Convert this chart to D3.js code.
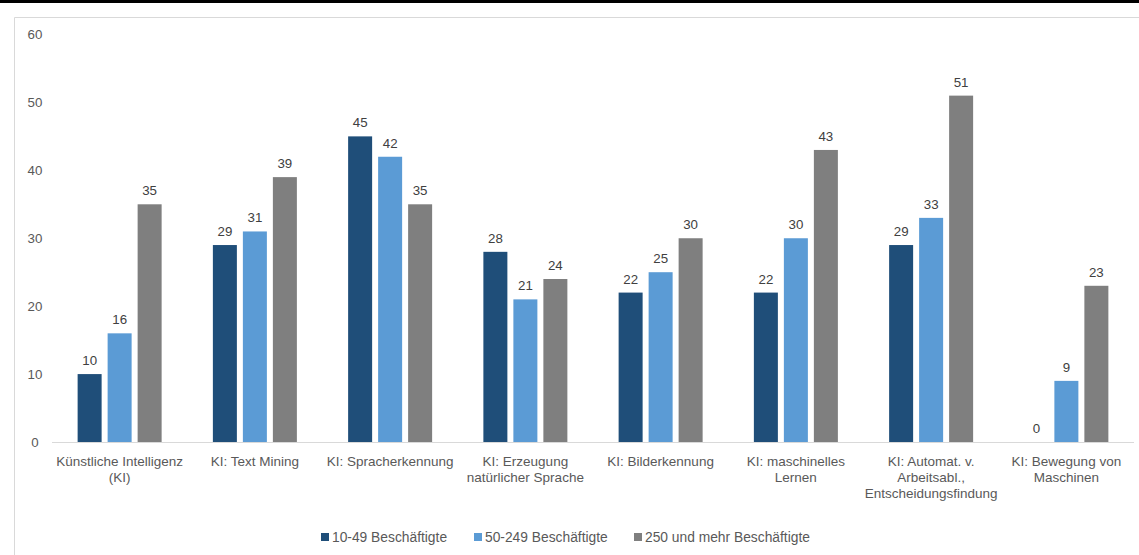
<!DOCTYPE html>
<html>
<head>
<meta charset="utf-8">
<script src="https://cdn.jsdelivr.net/npm/d3@7"></script>
<style>
  html, body { margin: 0; padding: 0; background: #fff; }
  svg { display: block; font-family: "Liberation Sans", Arial, sans-serif; }
</style>
</head>
<body>
<svg id="chart" width="1139" height="555"></svg>
<script>
// Category labels (line breaks mark wrapped axis labels)
const categories = [
  "Künstliche Intelligenz\n(KI)",
  "KI: Text Mining",
  "KI: Spracherkennung",
  "KI: Erzeugung\nnatürlicher Sprache",
  "KI: Bilderkennung",
  "KI: maschinelles\nLernen",
  "KI: Automat. v.\nArbeitsabl.,\nEntscheidungsfindung",
  "KI: Bewegung von\nMaschinen"
];
const seriesNames = ["10-49 Beschäftigte", "50-249 Beschäftigte", "250 und mehr Beschäftigte"];
const small  = [10, 29, 45, 28, 22, 22, 29, 0];
const medium = [16, 31, 42, 21, 25, 30, 33, 9];
const large  = [35, 39, 35, 24, 30, 43, 51, 23];
const yTicks = [0, 10, 20, 30, 40, 50, 60];
const colors = ["#1f4e79", "#5b9bd5", "#7f7f7f"];

const series = [small, medium, large];
const svg = d3.select("#chart");

// Top rule and outer frame
svg.append("rect").attr("x", 0).attr("y", 0).attr("width", 1139).attr("height", 3).attr("fill", "#000");
svg.append("path")
  .attr("d", "M14.5,560 V17.5 H1139")
  .attr("fill", "none").attr("stroke", "#d9d9d9").attr("stroke-width", 1);

const x0 = d3.scaleBand().domain(d3.range(categories.length)).range([52, 1134]).paddingInner(0).paddingOuter(0);
const y = d3.scaleLinear().domain([0, 60]).range([442, 34.5]);
const barW = 24, step = 30;

// Y axis labels (no axis line)
const yAxis = d3.axisLeft(y).tickValues(yTicks).tickSize(0).tickPadding(0);
const ya = svg.append("g").attr("transform", "translate(39,0)").call(yAxis);
ya.select(".domain").remove();
ya.selectAll("text").attr("font-size", 13.3).attr("fill", "#595959")
  .attr("font-family", "Liberation Sans, Arial, sans-serif").attr("text-anchor", "middle").attr("dx", -4);

// Baseline
svg.append("line").attr("x1", 52).attr("x2", 1134).attr("y1", y(0) + 0.5).attr("y2", y(0) + 0.5)
  .attr("stroke", "#d9d9d9").attr("stroke-width", 1);

// Bars and value labels
const groups = svg.append("g").selectAll("g").data(categories).join("g")
  .attr("transform", (d, i) => `translate(${x0(i) + x0.bandwidth() / 2},0)`);

series.forEach((vals, s) => {
  groups.append("rect")
    .attr("x", -barW / 2 + (s - 1) * step)
    .attr("width", barW)
    .attr("y", (d, i) => y(vals[i]))
    .attr("height", (d, i) => y(0) - y(vals[i]))
    .attr("fill", colors[s]);
  groups.append("text")
    .attr("x", (s - 1) * step)
    .attr("y", (d, i) => y(vals[i]) - 9)
    .attr("text-anchor", "middle")
    .attr("font-size", 13.3).attr("fill", "#404040")
    .text((d, i) => vals[i]);
});

// Category labels
const xl = svg.append("g");
categories.forEach((c, i) => {
  const t = xl.append("text")
    .attr("x", x0(i) + x0.bandwidth() / 2)
    .attr("y", 466)
    .attr("text-anchor", "middle")
    .attr("font-size", 13.5).attr("fill", "#595959");
  c.split("\n").forEach((line, k) => {
    t.append("tspan").attr("x", x0(i) + x0.bandwidth() / 2).attr("dy", k === 0 ? 0 : 16).text(line);
  });
});

// Legend
const legendX = [321, 474, 634];
const lg = svg.append("g");
seriesNames.forEach((n, s) => {
  lg.append("rect").attr("x", legendX[s]).attr("y", 533).attr("width", 8).attr("height", 8).attr("fill", colors[s]);
  lg.append("text").attr("x", legendX[s] + 11).attr("y", 542)
    .attr("font-size", 13.8).attr("fill", "#595959").text(n);
});
</script>
</body>
</html>
